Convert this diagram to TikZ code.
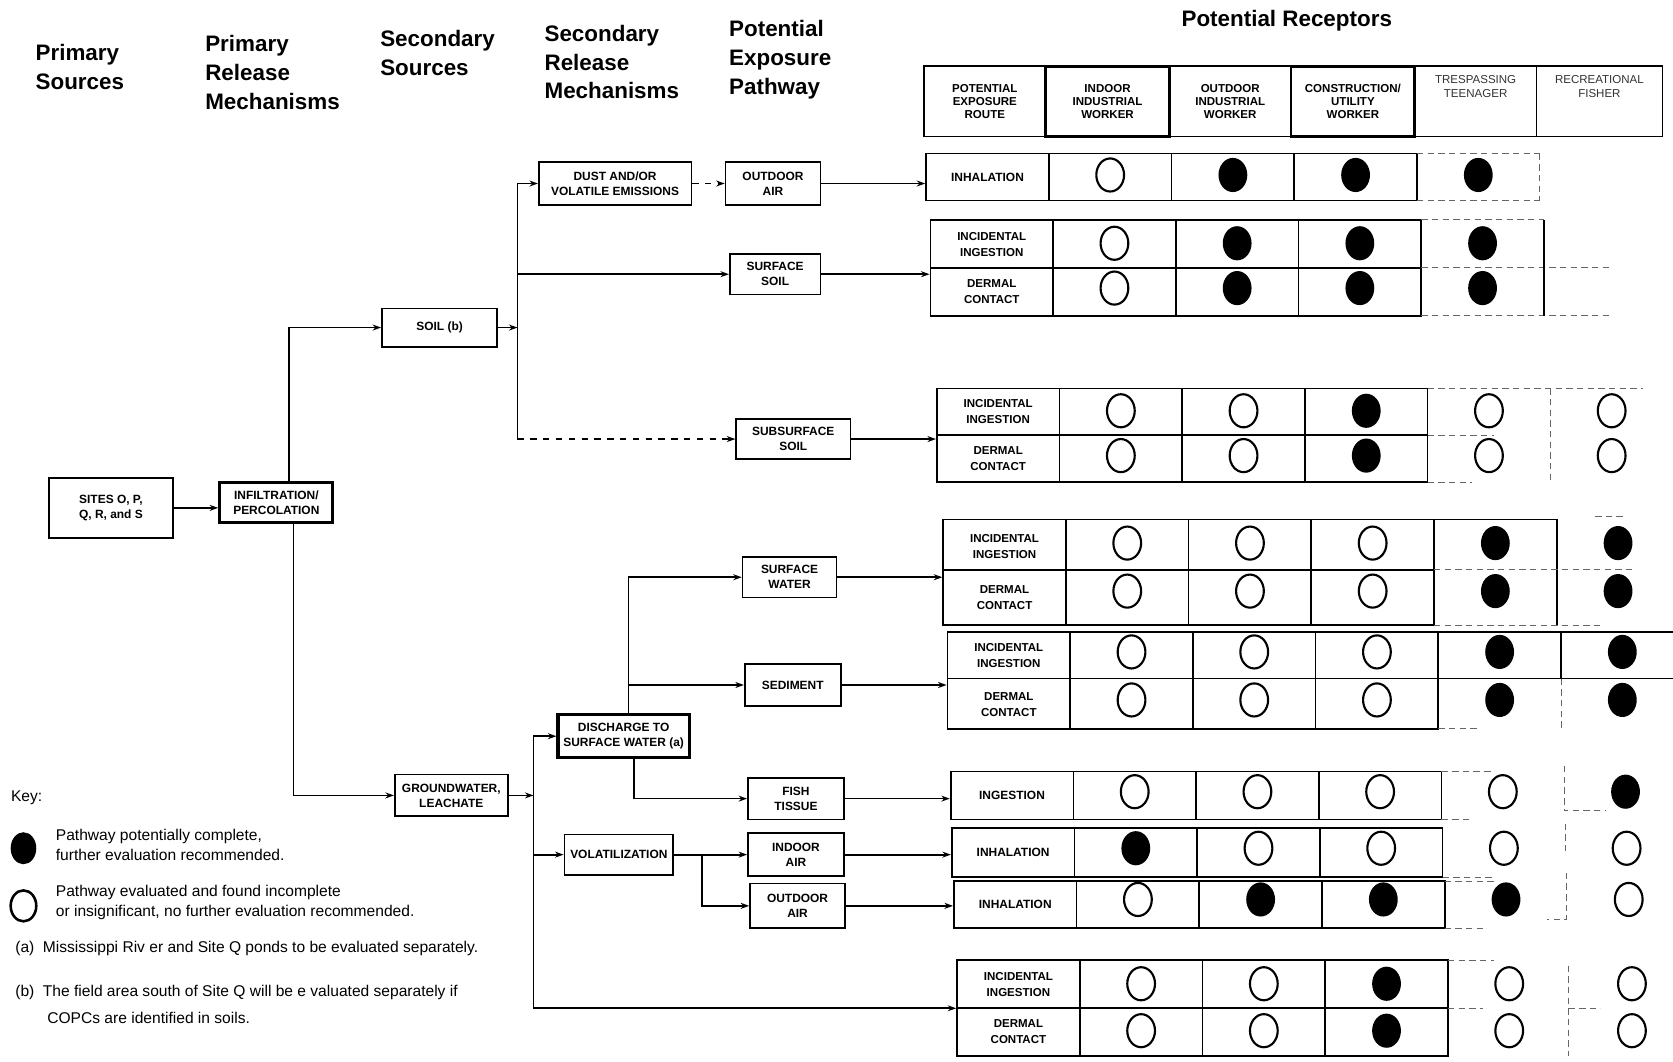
\documentclass[tikz,border=0pt]{standalone}
\usepackage{fontspec}
\setmainfont{Liberation Sans}
\usetikzlibrary{arrows.meta,calc}
\newcommand\dotrow[3]{%
  \foreach \p [count=\k] in {#3}{%
    \pgfmathsetmacro\cx{#1+115*\k+57.5}%
    \ifnum\p=1 \fill (\cx,#2) ellipse [x radius=13.5,y radius=16];\fi
    \ifnum\p=0 \draw[line width=1pt] (\cx,#2) ellipse [x radius=13,y radius=15.5];\fi
  }}
\newcommand\gridrow[4]{%
  \draw[cell] (#1+115,#2) -- (#1+460,#2) -- (#1+460,#3) -- (#1+115,#3);
  \draw[cell] (#1+230,#2) -- (#1+230,#3) (#1+345,#2) -- (#1+345,#3);
  \ifnum#4>0 \draw[cell] (#1,#4) -- (#1+460,#4);\fi
}
\begin{document}
\begin{tikzpicture}[x=0.5pt,y=-0.5pt,
  >={Stealth[length=4pt,width=2.8pt]},
  every node/.style={inner sep=0pt},
  ln/.style={line width=0.8pt},
  fbox/.style={draw,line width=0.8pt,align=center,font=\fontsize{5.6}{7}\selectfont\bfseries},
  tbox/.style={fbox,line width=1.5pt},
  hd/.style={align=left,anchor=north west,font=\fontsize{10.5}{13.5}\selectfont\bfseries},
  cell/.style={line width=0.8pt},
  dcell/.style={line width=0.4pt,dash pattern=on 3pt off 2pt,black!60},
  rtxt/.style={align=center,font=\fontsize{5.4}{7.5}\selectfont\bfseries},
  htxt/.style={align=center,font=\fontsize{5.4}{6.2}\selectfont\bfseries},
  key/.style={anchor=west,align=left,font=\fontsize{7.3}{9.5}\selectfont},
]
\useasboundingbox (0,0) rectangle (1568,995);

% column headings
\node[hd] (hdA) at (33,41) {Primary\\Sources};
\node[hd] (hdB) at (192,33) {Primary\\Release\\Mechanisms};
\node[hd] (hdC) at (356,28) {Secondary\\Sources};
\node[hd] (hdD) at (510,23) {Secondary\\Release\\Mechanisms};
\node[hd] (hdE) at (683,19) {Potential\\Exposure\\Pathway};
\node[font=\fontsize{10.5}{13.5}\selectfont\bfseries] (hdR) at (1206,19) {Potential Receptors};

% flow boxes
\node[fbox,minimum width=58pt,minimum height=28pt] (sites) at (104,476) {SITES O, P,\\Q, R, and S};
\node[tbox,minimum width=53pt,minimum height=19pt] (infil) at (259,471) {INFILTRATION/\\PERCOLATION};
\node[fbox,minimum width=54pt,minimum height=18pt] (soil) at (412,307) {SOIL (b)};
\node[fbox,minimum width=53pt,minimum height=19.5pt] (gw) at (423,745.5) {GROUNDWATER,\\LEACHATE};
\node[fbox,minimum width=71.5pt,minimum height=20pt] (dust) at (576.5,172) {DUST AND/OR\\VOLATILE EMISSIONS};
\node[fbox,minimum width=44.5pt,minimum height=20pt] (oa1) at (724.5,172) {OUTDOOR\\AIR};
\node[fbox,minimum width=42.5pt,minimum height=19pt] (ssoil) at (726.5,257) {SURFACE\\SOIL};
\node[fbox,minimum width=53.5pt,minimum height=18.5pt] (subsoil) at (743.5,411.5) {SUBSURFACE\\SOIL};
\node[tbox,minimum width=61.5pt,minimum height=20pt] (disch) at (584.5,690) {DISCHARGE TO\\SURFACE WATER (a)};
\node[fbox,minimum width=44pt,minimum height=19pt] (sw) at (740,541) {SURFACE\\WATER};
\node[fbox,minimum width=45pt,minimum height=20pt] (sed) at (743,642) {SEDIMENT};
\node[fbox,minimum width=45pt,minimum height=19.5pt] (fish) at (746,748.5) {FISH\\TISSUE};
\node[fbox,minimum width=51pt,minimum height=19pt] (vol) at (580,801) {VOLATILIZATION};
\node[fbox,minimum width=45pt,minimum height=20pt] (iair) at (746,801) {INDOOR\\AIR};
\node[fbox,minimum width=44.5pt,minimum height=21pt] (oair2) at (747.5,849) {OUTDOOR\\AIR};

% header row of the table
\node[draw,cell,htxt,minimum width=57pt,minimum height=33pt] (hR) at (923,95) {POTENTIAL\\EXPOSURE\\ROUTE};
\node[draw,htxt,line width=1.3pt,minimum width=58pt,minimum height=33pt] (hI) at (1038,95) {INDOOR\\INDUSTRIAL\\WORKER};
\node[draw,cell,htxt,minimum width=57pt,minimum height=33pt] (hO) at (1153,95) {OUTDOOR\\INDUSTRIAL\\WORKER};
\node[draw,htxt,line width=1.3pt,minimum width=58pt,minimum height=33pt] (hC) at (1268,95) {CONSTRUCTION/\\UTILITY\\WORKER};
\node[draw,cell,minimum width=57pt,minimum height=33pt] (hT) at (1383,95) {};
\node[draw,cell,minimum width=59pt,minimum height=33pt] (hF) at (1499,95) {};
\node[align=center,font=\fontsize{5.4}{6.2}\selectfont,black!80] (hTt) at (1383,81) {TRESPASSING\\TEENAGER};
\node[align=center,font=\fontsize{5.4}{6.2}\selectfont,black!80] (hFt) at (1499,81) {RECREATIONAL\\FISHER};

% row A
\node[fbox,minimum width=57.5pt,minimum height=22pt] (rA) at (925.5,166) {INHALATION};
\gridrow{868}{144}{188}{-1}
\draw[dcell] (1328,144) -- (1443,144) (1328,188) -- (1443,188) (1443,144) -- (1443,188);
\dotrow{868}{164}{0,1,1,1,2}

% row B
\node[draw,cell,minimum width=57.5pt,minimum height=45pt] (rB) at (929.5,251) {};
\node[rtxt] (rB1) at (929.5,229) {INCIDENTAL\\INGESTION};
\node[rtxt] (rB2) at (929.5,273) {DERMAL\\CONTACT};
\gridrow{872}{206}{296}{251}
\draw[dcell] (1332,206) -- (1447,206) (1332,251) -- (1510,251) (1332,296) -- (1510,296);
\draw[cell] (1447,206) -- (1447,296);
\dotrow{872}{228}{0,1,1,1,2}
\dotrow{872}{270}{0,1,1,1,2}

% row C
\node[draw,cell,minimum width=57.5pt,minimum height=44pt] (rC) at (935.5,408) {};
\node[rtxt] (rC1) at (935.5,386) {INCIDENTAL\\INGESTION};
\node[rtxt] (rC2) at (935.5,430) {DERMAL\\CONTACT};
\gridrow{878}{364}{452}{408}
\draw[dcell] (1338,364) -- (1540,364) (1338,408) -- (1400,408) (1338,452) -- (1380,452) (1453,364) -- (1453,452);
\dotrow{878}{385}{0,0,1,0,0}
\dotrow{878}{427}{0,0,1,0,0}

% row D
\node[draw,cell,minimum width=57.5pt,minimum height=49.5pt] (rD) at (941.5,536.5) {};
\node[rtxt] (rD1) at (941.5,512) {INCIDENTAL\\INGESTION};
\node[rtxt] (rD2) at (941.5,560) {DERMAL\\CONTACT};
\gridrow{884}{487}{586}{534}
\draw[cell] (1344,487) -- (1459,487) -- (1459,586);
\draw[dcell] (1344,534) -- (1530,534) (1344,586) -- (1500,586) (1495,484) -- (1522,484);
\dotrow{884}{509}{0,0,0,1,1}
\dotrow{884}{554}{0,0,0,1,1}

% row E
\node[draw,cell,minimum width=57.5pt,minimum height=45.5pt] (rE) at (945.5,637.5) {};
\node[rtxt] (rE1) at (945.5,614) {INCIDENTAL\\INGESTION};
\node[rtxt] (rE2) at (945.5,660) {DERMAL\\CONTACT};
\gridrow{888}{592}{683}{636}
\draw[cell] (1348,592) -- (1568,592) (1348,636) -- (1568,636) (1463,592) -- (1463,636);
\draw[dcell] (1463,636) -- (1463,683) (1348,683) -- (1385,683);
\dotrow{888}{611}{0,0,0,1,1}
\dotrow{888}{656}{0,0,0,1,1}

% row F
\node[fbox,minimum width=57.5pt,minimum height=22.5pt] (rF) at (948.5,745.5) {INGESTION};
\gridrow{891}{723}{768}{-1}
\draw[dcell] (1351,723) -- (1400,723) (1351,768) -- (1380,768) (1466,718) -- (1466,760) -- (1505,760);
\dotrow{891}{742}{0,0,0,0,1}

% row G
\node[fbox,minimum width=57.5pt,minimum height=23pt] (rG) at (949.5,799) {INHALATION};
\gridrow{892}{776}{822}{-1}
\draw[dcell] (1352,822) -- (1400,822) (1467,772) -- (1467,800);
\dotrow{892}{795}{1,0,0,0,0}

% row H
\node[fbox,minimum width=57.5pt,minimum height=22pt] (rH) at (951.5,848) {INHALATION};
\gridrow{894}{826}{870}{-1}
\draw[dcell] (1354,826) -- (1400,826) (1354,870) -- (1390,870) (1468,818) -- (1468,862) -- (1450,862);
\dotrow{894}{843}{0,1,1,1,0}

% row I
\node[draw,cell,minimum width=57.5pt,minimum height=45pt] (rI) at (954.5,945) {};
\node[rtxt] (rI1) at (954.5,923) {INCIDENTAL\\INGESTION};
\node[rtxt] (rI2) at (954.5,967) {DERMAL\\CONTACT};
\gridrow{897}{900}{990}{945}
\draw[dcell] (1357,900) -- (1400,900) (1357,945) -- (1390,945) (1470,905) -- (1470,990) (1470,945) -- (1500,945);
\dotrow{897}{922}{0,0,1,0,0}
\dotrow{897}{966}{0,0,1,0,0}

% connectors
\draw[ln,->] (sites.east) -- (sites.east -| infil.west);
\draw[ln,->] ($(infil.north)+(12,0)$) |- (soil.west);
\draw[ln,->] ($(infil.south)+(16,0)$) |- (gw.west);
\coordinate (sb) at (485,307);
\draw[ln,->] (soil.east) -- (sb);
\draw[ln] (sb |- dust) -- (sb |- subsoil);
\draw[ln,->] (sb |- dust) -- (dust.west);
\draw[ln,->] (sb |- ssoil) -- (ssoil.west);
\draw[ln,->,dashed] (sb |- subsoil) -- (subsoil.west);
\draw[ln,->,dashed] (dust.east) -- (oa1.west);
\draw[ln,->] (oa1.east) -- (oa1.east -| rA.west);
\draw[ln,->] (ssoil.east) -- (ssoil.east -| rB.west);
\draw[ln,->] (subsoil.east) -- (subsoil.east -| rC.west);

\coordinate (gb) at (500,745.5);
\draw[ln,->] (gw.east) -- (gb);
\draw[ln] (gb |- disch) -- (gb |- rI);
\draw[ln,->] (gb |- disch) -- (disch.west);
\draw[ln,->] (gb |- vol) -- (vol.west);
\draw[ln,->] (gb |- rI) -- (rI.west);
\coordinate (db) at (589,600);
\draw[ln,->] (disch.north -| db) |- (sw.west);
\draw[ln,->] (db |- sed) -- (sed.west);
\draw[ln,->] ($(disch.south)+(10,0)$) |- (fish.west);
\draw[ln,->] (vol.east) -- (iair.west);
\coordinate (vb) at (658,801);
\draw[ln,->] (vb) |- (oair2.west);
\draw[ln,->] (sw.east) -- (sw.east -| rD.west);
\draw[ln,->] (sed.east) -- (sed.east -| rE.west);
\draw[ln,->] (fish.east) -- (fish.east -| rF.west);
\draw[ln,->] (iair.east) -- (iair.east -| rG.west);
\draw[ln,->] (oair2.east) -- (oair2.east -| rH.west);

% key
\node[key] (keyt) at (10,748) {Key:};
\fill (22,795) ellipse [x radius=12,y radius=15];
\node[key] (k1) at (52,792) {Pathway potentially complete,\\further evaluation recommended.};
\draw[line width=1.2pt] (22,849) ellipse [x radius=12,y radius=14.5];
\node[key] (k2) at (52,846) {Pathway evaluated and found incomplete\\or insignificant, no further evaluation recommended.};
\node[key] (na) at (14,889) {(a)\hspace{4pt}Mississippi Riv er and Site Q ponds to be evaluated separately.};
\node[key] (nb1) at (14,930) {(b)\hspace{4pt}The field area south of Site Q will be e valuated separately if};
\node[key] (nb2) at (44,954) {COPCs are identified in soils.};
\end{tikzpicture}
\end{document}
